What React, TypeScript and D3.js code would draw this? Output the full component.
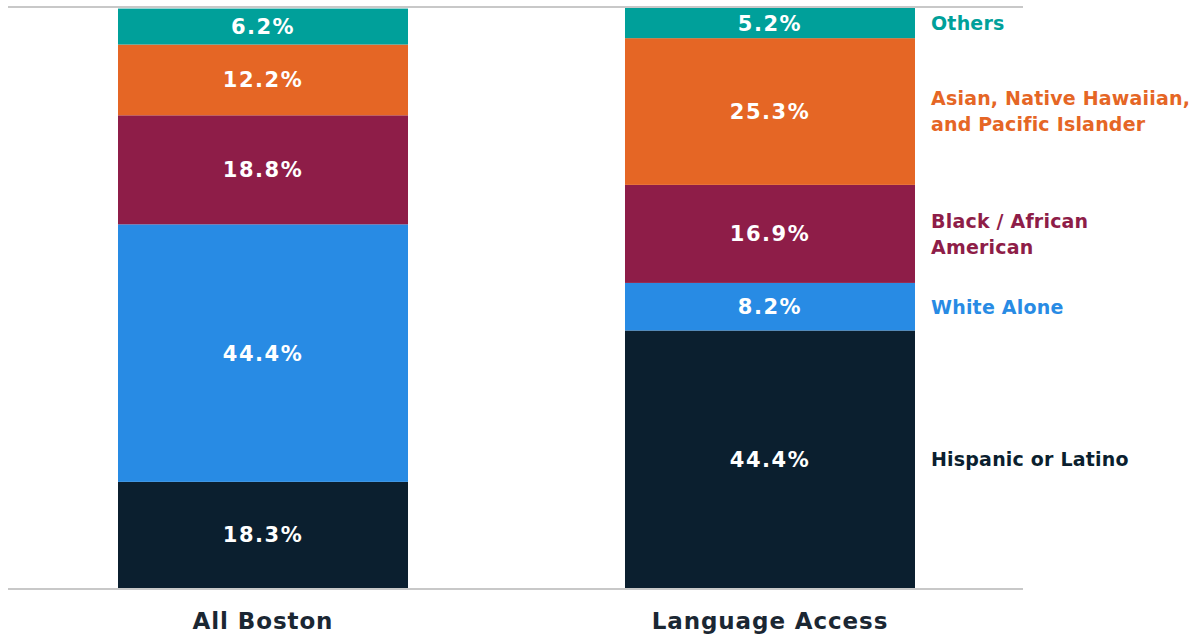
import React from "react";
import * as d3 from "d3";

const groups = ["All Boston", "Language Access"];
const categories = ["Hispanic or Latino", "White Alone", "Black / African American", "Asian, Native Hawaiian, and Pacific Islander", "Others"];
const legendLines = [["Hispanic or Latino"], ["White Alone"], ["Black / African", "American"], ["Asian, Native Hawaiian,", "and Pacific Islander"], ["Others"]];
const allBoston = [18.3, 44.4, 18.8, 12.2, 6.2];
const languageAccess = [44.4, 8.2, 16.9, 25.3, 5.2];
const colors = ["#0B1F2F", "#288BE4", "#8E1D48", "#E56625", "#00A09A"];
const legendColors = ["#0B1F2F", "#288BE4", "#8E1D48", "#E56625", "#00A09A"];

const W = 1194, H = 636;
const font = "'DejaVu Sans', sans-serif";

export default function App() {
  const y = d3.scaleLinear().domain([0, 100]).range([588, 8]);
  const x = d3.scaleBand().domain(groups).range([118, 915]).paddingInner(0.428).paddingOuter(0);
  const values = [allBoston, languageAccess];
  const stacks = values.map((vals) => {
    let acc = 0;
    return vals.map((v) => {
      const s = { y0: acc, y1: acc + v, v };
      acc += v;
      return s;
    });
  });
  const rightEdge = (x(groups[1]) ?? 0) + x.bandwidth();
  return (
    <svg width={W} height={H} style={{ position: "absolute", left: 0, top: 0, background: "#fff" }}>
      {groups.map((g, gi) => (
        <g key={g}>
          {stacks[gi].map((s, i) => (
            <g key={i}>
              <rect x={x(g)} y={y(Math.min(s.y1, 100))} width={x.bandwidth()} height={y(s.y0) - y(Math.min(s.y1, 100))} fill={colors[i]} />
              <text x={(x(g) ?? 0) + x.bandwidth() / 2} y={(y(s.y0) + y(Math.min(s.y1, 100))) / 2} dy="0.36em" textAnchor="middle" fill="#fff" fontFamily={font} fontWeight={700} fontSize={21} letterSpacing={1.5}>
                {s.v.toFixed(1)}%
              </text>
            </g>
          ))}
          <text x={(x(g) ?? 0) + x.bandwidth() / 2} y={621} dy="0.36em" textAnchor="middle" fill="#1B2733" fontFamily={font} fontWeight={700} fontSize={23} letterSpacing={0.9}>
            {g}
          </text>
        </g>
      ))}
      <line x1={8} x2={1023} y1={7} y2={7} stroke="#C8C8C8" strokeWidth={2} />
      <line x1={8} x2={1023} y1={589} y2={589} stroke="#C8C8C8" strokeWidth={2} />
      {stacks[1].map((s, i) => {
        const mid = (y(s.y0) + y(Math.min(s.y1, 100))) / 2;
        const lines = legendLines[i];
        const lh = 26;
        return (
          <text key={categories[i]} x={rightEdge + 16} y={mid - ((lines.length - 1) * lh) / 2} fill={legendColors[i]} fontFamily={font} fontWeight={700} fontSize={19} letterSpacing={0.2}>
            {lines.map((l, li) => (
              <tspan key={li} x={rightEdge + 16} dy={li === 0 ? "0.36em" : lh}>{l}</tspan>
            ))}
          </text>
        );
      })}
    </svg>
  );
}
